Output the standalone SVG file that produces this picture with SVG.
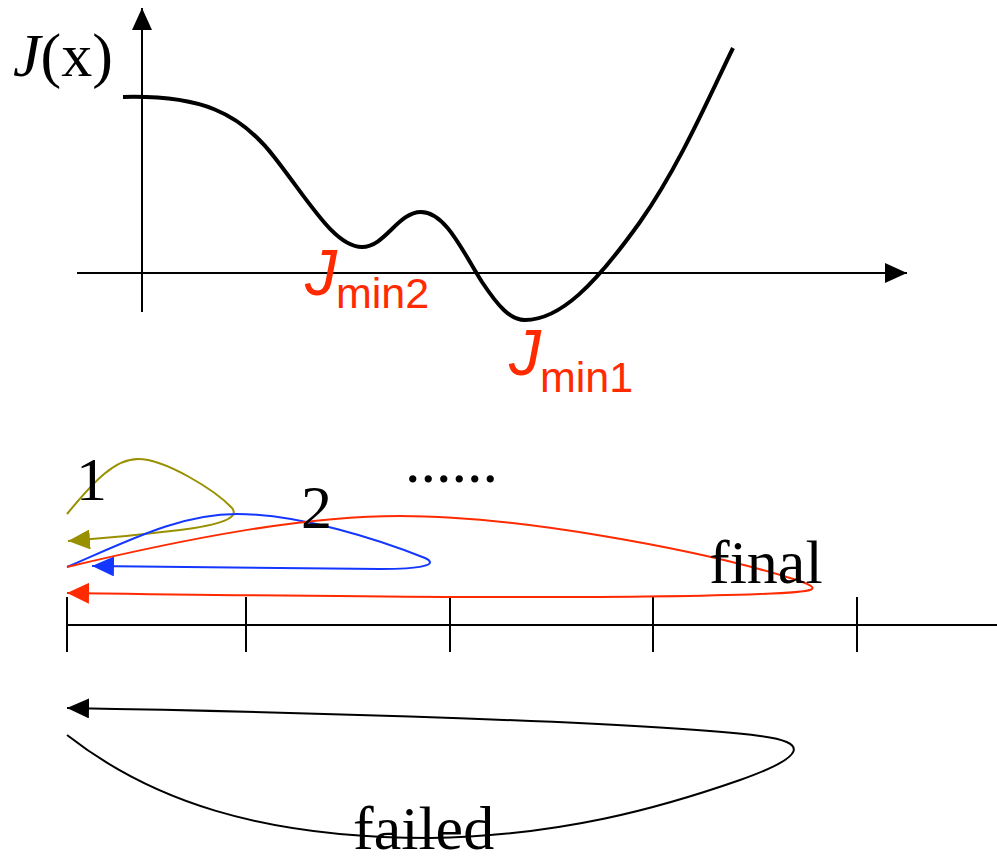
<svg xmlns="http://www.w3.org/2000/svg" width="997" height="863" viewBox="0 0 997 863">
<style>
.serif{font-family:"Liberation Serif","Times New Roman",serif;font-size:62px;fill:#000}
.sans{font-family:"Liberation Sans",Arial,sans-serif;fill:#ff2a00}
.ax{stroke:#000;stroke-width:2;fill:none}
.loop{fill:none;stroke-width:2}
</style>
<defs>
<marker id="ab" markerUnits="userSpaceOnUse" markerWidth="22" markerHeight="20" refX="22" refY="10" orient="auto" viewBox="0 0 22 20"><path d="M0,0 L22,10 L0,20 z" fill="#000"/></marker>
<marker id="ar" markerUnits="userSpaceOnUse" markerWidth="22" markerHeight="21" refX="22" refY="10.5" orient="auto" viewBox="0 0 22 21"><path d="M0,0 L22,10.5 L0,21 z" fill="#ff2a00"/></marker>
<marker id="abl" markerUnits="userSpaceOnUse" markerWidth="22" markerHeight="20" refX="22" refY="10" orient="auto" viewBox="0 0 22 20"><path d="M0,0 L22,10 L0,20 z" fill="#1437ff"/></marker>
<marker id="ao" markerUnits="userSpaceOnUse" markerWidth="22" markerHeight="20" refX="22" refY="10" orient="auto" viewBox="0 0 22 20"><path d="M0,0 L22,10 L0,20 z" fill="#999000"/></marker>
</defs>
<g id="graph">
<line class="ax" x1="142" y1="312" x2="142" y2="8" marker-end="url(#ab)"/>
<line class="ax" x1="77" y1="273" x2="907" y2="273" marker-end="url(#ab)"/>
<path d="M123,97 C200,95 240,112 275,158 C310,203 335,247 362,247 C385,247 398,212 421,212 C445,212 462,250 482,282 C498,306 510,320 525,320 C560,320 595,285 640,222 C680,165 710,95 733,48" fill="none" stroke="#000" stroke-width="4"/>
<text class="serif" x="13" y="76" font-size="66"><tspan font-style="italic">J</tspan>(x)</text>
<text class="sans" x="305" y="295" font-size="64" font-style="italic">J</text>
<text class="sans" x="336" y="308" font-size="43">min2</text>
<text class="sans" x="509" y="375" font-size="64" font-style="italic">J</text>
<text class="sans" x="540" y="392" font-size="43">min1</text>
</g>
<g id="axis">
<line class="ax" x1="67" y1="625" x2="997" y2="625"/>
<line class="ax" x1="67" y1="597" x2="67" y2="652"/>
<line class="ax" x1="246" y1="597" x2="246" y2="652"/>
<line class="ax" x1="450" y1="597" x2="450" y2="652"/>
<line class="ax" x1="653" y1="597" x2="653" y2="652"/>
<line class="ax" x1="857" y1="597" x2="857" y2="652"/>
</g>
<g id="connectors">
<path class="loop" stroke="#999000" d="M67,514 C95,480 115,459 138,459 C165,459 215,490 232,508 C240,518 220,525 180,530 C140,535 110,538 68,541" marker-end="url(#ao)"/>
<path class="loop" stroke="#1437ff" d="M67,567 C130,540 180,514 237,514 C300,514 380,540 425,558 C440,565 420,569 380,569 C300,569 200,568 92,566" marker-end="url(#abl)"/>
<path class="loop" stroke="#ff2a00" d="M67,567 C180,540 300,516 400,516 C520,516 700,550 790,578 C830,590 815,592 760,594 C600,600 300,596 67,593" marker-end="url(#ar)"/>
<path class="loop" stroke="#000" d="M67,735 C150,800 260,838 430,838 C560,836 660,808 740,780 C808,756 808,742 760,736 C650,722 300,712 67,708" marker-end="url(#ab)"/>
</g>
<g id="labels">
<text class="serif" x="76" y="500">1</text>
<text class="serif" x="301" y="528">2</text>
<text class="serif" x="405" y="482" font-size="58">......</text>
<text class="serif" x="709" y="583">final</text>
<text class="serif" x="353" y="849">failed</text>
</g>
</svg>
